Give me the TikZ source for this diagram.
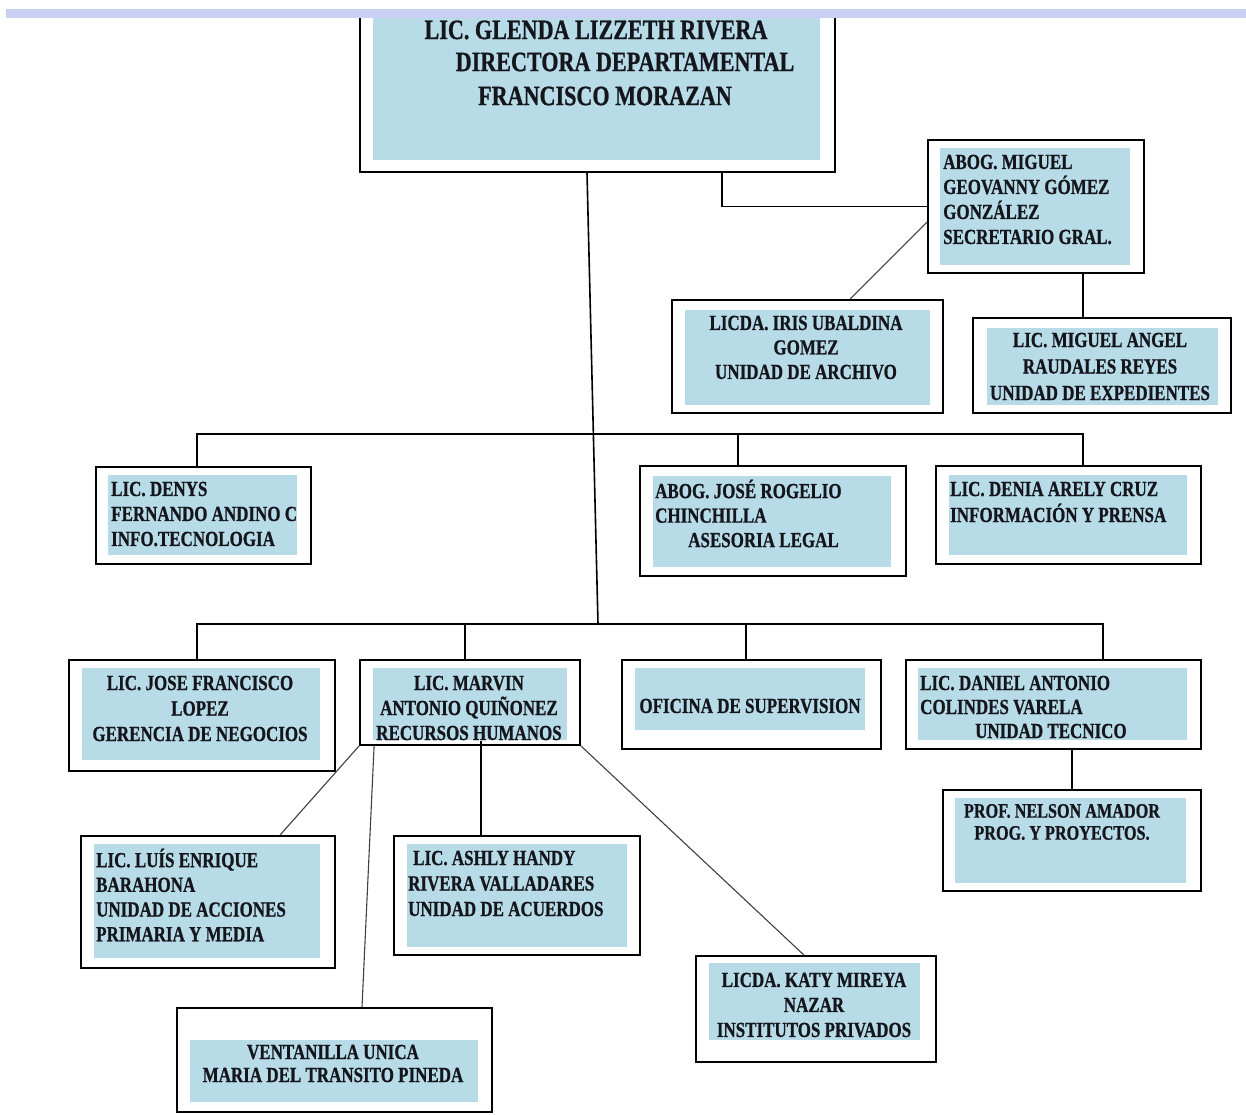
\documentclass[tikz,border=0pt]{standalone}
\usepackage{fontspec}
\newfontfamily\orgfont{Liberation Serif}[FakeStretch=0.79, FakeBold=0.8]
\usetikzlibrary{fit}
\definecolor{boxfill}{HTML}{B7DCE8}
\definecolor{stripc}{HTML}{C9CFF2}
\definecolor{ink}{HTML}{15151C}
\begin{document}
\begin{tikzpicture}[x=1pt,y=-1pt,
  outerbox/.style={draw=black, line width=1.8pt, fill=white, inner sep=0pt},
  innerfill/.style={fill=boxfill},
  txt/.style={font=\orgfont\bfseries\fontsize{21.5}{25}\selectfont, text=ink, inner sep=0pt},
  bigtxt/.style={font=\orgfont\bfseries\fontsize{28}{33}\selectfont, text=ink, inner sep=0pt},
  conn/.style={draw=black, line width=1.6pt},
  diag/.style={draw=black!75, line width=1.1pt}]
\useasboundingbox (0,0) rectangle (1246,1114);
\fill[white] (0,0) rectangle (1246,1114);

% ---------- boxes ----------
\node[outerbox, fit={(360,10) (835,172)}] (dir) {};
\fill[innerfill] (373,18) rectangle (820,160);
\node[outerbox, fit={(928,140) (1144,273)}] (sec) {};
\fill[innerfill] (940,148) rectangle (1130,265);
\node[outerbox, fit={(672,300) (943,413)}] (iris) {};
\fill[innerfill] (685,310) rectangle (930,405);
\node[outerbox, fit={(973,318) (1231,413)}] (mig) {};
\fill[innerfill] (987,328) rectangle (1218,405);
\node[outerbox, fit={(96,467) (311,564)}] (denys) {};
\fill[innerfill] (108,475) rectangle (297,555);
\node[outerbox, fit={(640,466) (906,576)}] (rog) {};
\fill[innerfill] (653,476) rectangle (891,567);
\node[outerbox, fit={(936,466) (1201,564)}] (denia) {};
\fill[innerfill] (949,475) rectangle (1187,555);
\node[outerbox, fit={(69,660) (335,771)}] (jf) {};
\fill[innerfill] (82,668) rectangle (320,760);
\node[outerbox, fit={(360,660) (580,745)}] (mar) {};
\fill[innerfill] (373,668) rectangle (567,740);
\node[outerbox, fit={(622,660) (881,749)}] (ofi) {};
\fill[innerfill] (635,668) rectangle (865,730);
\node[outerbox, fit={(906,660) (1201,749)}] (dan) {};
\fill[innerfill] (918,668) rectangle (1187,740);
\node[outerbox, fit={(943,790) (1201,891)}] (nel) {};
\fill[innerfill] (955,798) rectangle (1186,883);
\node[outerbox, fit={(81,836) (335,968)}] (luis) {};
\fill[innerfill] (94,844) rectangle (320,958);
\node[outerbox, fit={(394,836) (640,955)}] (ash) {};
\fill[innerfill] (407,844) rectangle (627,947);
\node[outerbox, fit={(177,1008) (492,1112)}] (ven) {};
\fill[innerfill] (190,1040) rectangle (478,1102);
\node[outerbox, fit={(696,956) (936,1062)}] (katy) {};
\fill[innerfill] (709,963) rectangle (920,1040);

% top strip
\fill[stripc] (6,9) rectangle (1246,18);

% ---------- texts ----------
\node[bigtxt] (dirT1) at (596,30) {LIC. GLENDA LIZZETH RIVERA};
\node[bigtxt] (dirT2) at (625,62) {DIRECTORA DEPARTAMENTAL};
\node[bigtxt] (dirT3) at (605,96) {FRANCISCO MORAZAN};

\node[txt, align=left, anchor=west] (secT) at (943,199.5)
  {ABOG. MIGUEL\\GEOVANNY GÓMEZ\\GONZÁLEZ\\SECRETARIO GRAL.};
\node[txt, align=center, font=\orgfont\bfseries\fontsize{21.5}{24.5}\selectfont] (irisT) at (806,347.5)
  {LICDA. IRIS UBALDINA\\GOMEZ\\UNIDAD DE ARCHIVO};
\node[txt, align=center, font=\orgfont\bfseries\fontsize{21.5}{26.5}\selectfont] (migT) at (1100,366.5)
  {LIC. MIGUEL ANGEL\\RAUDALES REYES\\UNIDAD DE EXPEDIENTES};
\node[txt, align=left, anchor=west] (denysT) at (111,514)
  {LIC. DENYS\\FERNANDO ANDINO C\\INFO.TECNOLOGIA};
\node[txt, align=left, anchor=west, font=\orgfont\bfseries\fontsize{21.5}{24.5}\selectfont] (rogT) at (655,513.5)
  {ABOG. JOSÉ ROGELIO\\CHINCHILLA\\\hspace*{33pt}ASESORIA LEGAL};
\node[txt, align=left, anchor=west, font=\orgfont\bfseries\fontsize{21.5}{26}\selectfont] (deniaT) at (950,502)
  {LIC. DENIA ARELY CRUZ\\INFORMACIÓN Y PRENSA};
\node[txt, align=center, font=\orgfont\bfseries\fontsize{21.5}{25.5}\selectfont] (jfT) at (200,708.5)
  {LIC. JOSE FRANCISCO\\LOPEZ\\GERENCIA DE NEGOCIOS};
\node[txt, align=center] (marT) at (469,708)
  {LIC. MARVIN\\ANTONIO QUIÑONEZ\\RECURSOS HUMANOS};
\node[txt] (ofiT) at (750,706) {OFICINA DE SUPERVISION};
\node[txt, align=left, anchor=west, font=\orgfont\bfseries\fontsize{21.5}{24}\selectfont] (danT) at (920,707)
  {LIC. DANIEL ANTONIO\\COLINDES VARELA\\\hspace*{55pt}UNIDAD TECNICO};
\node[txt, align=center, font=\orgfont\bfseries\fontsize{20.5}{22}\selectfont] (nelT) at (1062,822)
  {PROF. NELSON AMADOR\\PROG. Y PROYECTOS.};
\node[txt, align=left, anchor=west, font=\orgfont\bfseries\fontsize{21.5}{24.7}\selectfont] (luisT) at (96,895)
  {LIC. LUÍS ENRIQUE\\BARAHONA\\UNIDAD DE ACCIONES\\PRIMARIA Y MEDIA};
\node[txt, align=left, anchor=west, font=\orgfont\bfseries\fontsize{21.5}{25.5}\selectfont] (ashT) at (408,883.5)
  {\hspace*{5pt}LIC. ASHLY HANDY\\RIVERA VALLADARES\\UNIDAD DE ACUERDOS};
\node[txt, align=center, font=\orgfont\bfseries\fontsize{21.5}{23}\selectfont] (venT) at (333,1063.5)
  {VENTANILLA UNICA\\MARIA DEL TRANSITO PINEDA};
\node[txt, align=center] (katyT) at (814,1005)
  {LICDA. KATY MIREYA\\NAZAR\\INSTITUTOS PRIVADOS};

% ---------- connectors ----------
\coordinate (bus2) at (0,434);
\coordinate (bus3) at (598,624);

% director -> secretary
\coordinate (ds) at ([xshift=124.5pt]dir.south);
\draw[conn] (ds) |- (sec.west);
% secretary -> iris, miguel angel
\draw[diag] ([yshift=-15.5pt]sec.west) -- ([xshift=42.5pt]iris.north);
\coordinate (mA) at ([xshift=-19pt]mig.north);
\draw[conn] (mA) -- (mA |- sec.south);

% trunk
\draw[conn] ([xshift=-10.5pt]dir.south) -- (bus3);

% row 2
\coordinate (d2a) at ([xshift=-6.5pt]denys.north);
\coordinate (d2b) at ([xshift=-35pt]rog.north);
\coordinate (d2c) at ([xshift=14.5pt]denia.north);
\draw[conn] (d2a) -- (d2a |- bus2) -- (d2c |- bus2) -- (d2c);
\draw[conn] (d2b) -- (d2b |- bus2);

% row 3
\coordinate (d3a) at ([xshift=-5pt]jf.north);
\coordinate (d3b) at ([xshift=-5pt]mar.north);
\coordinate (d3c) at ([xshift=-5.5pt]ofi.north);
\coordinate (d3d) at ([xshift=49.5pt]dan.north);
\draw[conn] (d3a) -- (d3a |- bus3) -- (d3d |- bus3) -- (d3d);
\draw[conn] (d3b) -- (d3b |- bus3);
\draw[conn] (d3c) -- (d3c |- bus3);

% daniel -> nelson
\draw[conn] (nel.north) -- (nel.north |- dan.south);

% marvin -> subordinates
\draw[diag] (mar.south west) -- ([xshift=72pt]luis.north);
\draw[diag] ([xshift=15pt]mar.south west) -- ([xshift=27.5pt]ven.north);
\coordinate (aT) at ([xshift=-36pt]ash.north);
\draw[conn] (aT) -- ([yshift=5pt]aT |- mar.south);
\draw[diag] (mar.south east) -- ([xshift=-12pt]katy.north);
\end{tikzpicture}
\end{document}
